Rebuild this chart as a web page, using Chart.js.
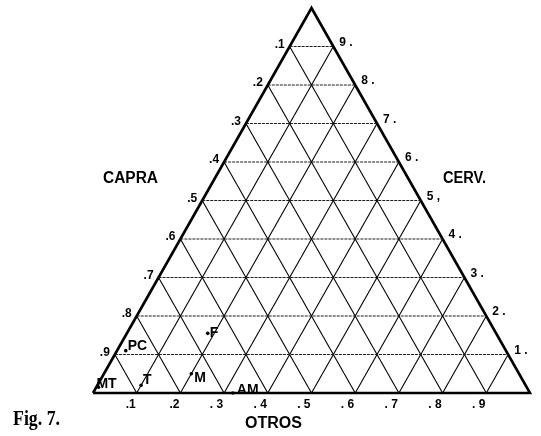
<!DOCTYPE html>
<html>
<head>
<meta charset="utf-8">
<script src="https://cdn.jsdelivr.net/npm/chart.js@4.4.1/dist/chart.umd.min.js"></script>
<style>
  html, body { margin: 0; padding: 0; background: #fff; }
  canvas { display: block; }
</style>
</head>
<body>
<canvas id="c" width="541" height="436"></canvas>
<script>
// Ternary grid ticks and the labels written along each side
const gridTicks = [0.1, 0.2, 0.3, 0.4, 0.5, 0.6, 0.7, 0.8, 0.9];
const capraTickLabels = ['.1', '.2', '.3', '.4', '.5', '.6', '.7', '.8', '.9'];
const cervTickLabels = ['1 .', '2 .', '3 .', '4 .', '5 ,', '6 .', '7 .', '8 .', '9 .'];
const otrosTickLabels = ['.1', '.2', '. 3', '. 4', '. 5', '. 6', '. 7', '. 8', '. 9'];

// Sites and their proportions (capra, cervids, others)
const sites = ['MT', 'T', 'PC', 'F', 'M', 'AM'];
const capra = [0.98, 0.88, 0.87, 0.66, 0.75, 0.68];
const cerv  = [0.015, 0.02, 0.11, 0.155, 0.05, 0.0];
const otros = [0.005, 0.10, 0.02, 0.185, 0.20, 0.32];

// Ternary -> cartesian: bottom-left = CAPRA, bottom-right = OTROS, apex = CERV.
function tern(ca, ce, ot) {
  return { x: ot + ce / 2, y: ce };
}

const lineDatasets = [];
function addLine(p0, p1, opts) {
  lineDatasets.push(Object.assign({
    data: [p0, p1], showLine: true, pointRadius: 0, clip: false,
    borderColor: '#000', borderWidth: 1.1, fill: false
  }, opts));
}

gridTicks.forEach(t => {
  // constant CERV (horizontal)
  addLine(tern(1 - t, t, 0), tern(0, t, 1 - t), { borderColor: '#1e1e1e', borderWidth: 1.2, borderDash: [3, 1] });
  // constant CAPRA (parallel to right side)
  addLine(tern(t, 1 - t, 0), tern(t, 0, 1 - t), {});
  // constant OTROS (parallel to left side)
  addLine(tern(0, 1 - t, t), tern(1 - t, 0, t), {});
});

// Triangle outline
lineDatasets.push({
  data: [tern(1, 0, 0), tern(0, 0, 1), tern(0, 1, 0), tern(1, 0, 0)],
  showLine: true, pointRadius: 0, clip: false,
  borderColor: '#000', borderWidth: 2.6, borderJoinStyle: 'miter', fill: false
});

const siteData = sites.map((s, i) => tern(capra[i], cerv[i], otros[i]));
const siteDataset = {
  data: siteData, showLine: false, pointRadius: 1.8, clip: false,
  pointBackgroundColor: '#000', pointBorderColor: '#000', pointBorderWidth: 0
};

// Label offsets (px) for each site name, relative to its point
const siteLabelOffset = {
  MT: [-2, -3], T: [2, -5], PC: [2, -5], F: [2, 0], M: [3, 4], AM: [4, -3]
};

const textPlugin = {
  id: 'ternaryText',
  afterDatasetsDraw(chart) {
    const { ctx, scales } = chart;
    const px = p => [scales.x.getPixelForValue(p.x), scales.y.getPixelForValue(p.y)];
    ctx.save();
    ctx.fillStyle = '#000';

    // side tick labels
    ctx.font = 'bold 12px "Liberation Sans", Arial, sans-serif';
    ctx.textBaseline = 'middle';
    gridTicks.forEach((t, i) => {
      // CAPRA along the left side
      let [x, y] = px(tern(t, 1 - t, 0));
      ctx.textAlign = 'right';
      ctx.fillText(capraTickLabels[i], x - 5, y - 2);
      // CERV along the right side
      [x, y] = px(tern(0, t, 1 - t));
      ctx.textAlign = 'left';
      ctx.fillText(cervTickLabels[i], x + 6, y - 4);
      // OTROS along the bottom
      [x, y] = px(tern(1 - t, 0, t));
      ctx.textAlign = 'right';
      ctx.fillText(otrosTickLabels[i], x - 1, y + 12);
    });

    // axis names
    ctx.textAlign = 'left';
    ctx.textBaseline = 'alphabetic';
    ctx.font = 'bold 16px "Liberation Sans", Arial, sans-serif';
    ctx.fillText('CAPRA', 103, 183, 55);
    ctx.fillText('CERV.', 443, 183, 43);
    ctx.fillText('OTROS', 245, 428, 57);

    // site names
    ctx.font = 'bold 14px "Liberation Sans", Arial, sans-serif';
    ctx.textBaseline = 'middle';
    sites.forEach((s, i) => {
      const [x, y] = px(siteData[i]);
      const off = siteLabelOffset[s];
      ctx.fillText(s, x + off[0], y + off[1]);
    });

    // figure caption
    ctx.textBaseline = 'alphabetic';
    ctx.font = 'bold 21px "Liberation Serif", "Times New Roman", serif';
    ctx.fillText('Fig. 7.', 13, 425, 47);
    ctx.restore();
  }
};

new Chart(document.getElementById('c').getContext('2d'), {
  type: 'scatter',
  data: { datasets: [...lineDatasets, siteDataset] },
  options: {
    responsive: false,
    animation: false,
    devicePixelRatio: 1,
    layout: { padding: { left: 93, right: 11, top: 8, bottom: 43 } },
    scales: {
      x: { type: 'linear', min: 0, max: 1, display: false },
      y: { type: 'linear', min: 0, max: 1, display: false }
    },
    plugins: { legend: { display: false }, tooltip: { enabled: false } },
    events: []
  },
  plugins: [textPlugin]
});
</script>
</body>
</html>
